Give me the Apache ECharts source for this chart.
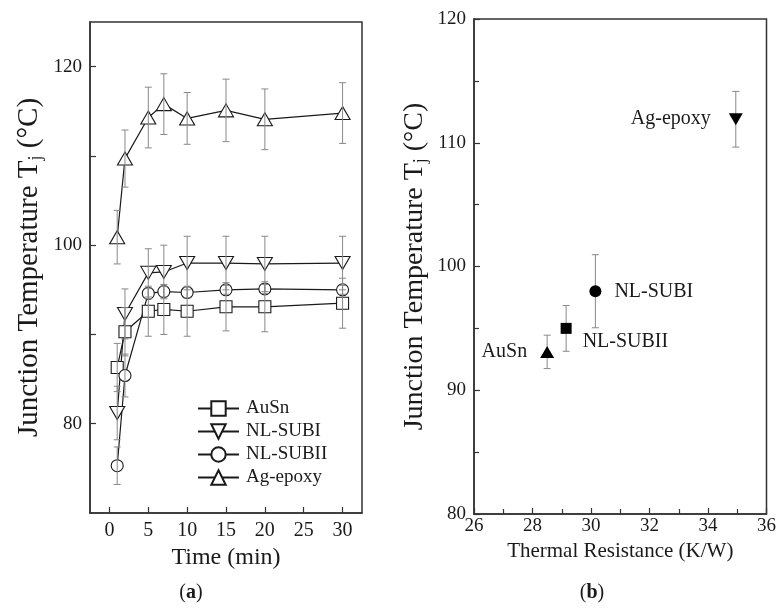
<!DOCTYPE html>
<html>
<head>
<meta charset="utf-8">
<script src="https://cdn.jsdelivr.net/npm/echarts@6/dist/echarts.min.js"></script>
<style>
  html, body { margin: 0; padding: 0; background: #fff; }
  #chart { width: 779px; height: 608px; }
</style>
</head>
<body>
<div id="chart"></div>
<script>
// (a) junction temperature vs time
const times = [1, 2, 5, 7, 10, 15, 20, 30];
const auSn = [86.3, 90.3, 92.6, 92.8, 92.6, 93.1, 93.1, 93.5];
const auSnErr = [2.7, 2.7, 2.8, 2.8, 2.8, 2.7, 2.8, 2.8];
const nlSub1 = [81.2, 92.3, 96.9, 97.0, 98.0, 98.0, 97.9, 98.0];
const nlSub1Err = [3.0, 2.8, 2.7, 3.0, 3.0, 3.0, 3.1, 3.0];
const nlSub2 = [75.3, 85.4, 94.6, 94.8, 94.7, 95.0, 95.1, 95.0];
const nlSub2Err = [2.1, 2.4, 0.6, 0.6, 0.6, 0.5, 0.5, 0.5];
const agEpoxy = [100.9, 109.7, 114.3, 115.8, 114.2, 115.1, 114.1, 114.8];
const agEpoxyErr = [3.0, 3.2, 3.4, 3.4, 2.9, 3.5, 3.4, 3.4];

// (b) junction temperature vs thermal resistance
const rthNames = ['AuSn', 'NL-SUBII', 'NL-SUBI', 'Ag-epoxy'];
const rth = [28.5, 29.15, 30.15, 34.95];
const tj = [93.1, 95.0, 98.0, 111.9];
const tjErr = [1.35, 1.85, 2.95, 2.25];

const timeTicks = [0, 5, 10, 15, 20, 25, 30];
const tempTicksA = [80, 90, 100, 110, 120];
const tempLabelsA = [80, 100, 120];

const FONT = "'Liberation Serif', 'Times New Roman', serif";
const INK = '#1a1a1a';

function errData(xs, ys, es) {
  return xs.map((x, i) => [x, ys[i] - es[i], ys[i] + es[i]]);
}

function errRender(params, api) {
  const x = api.value(0);
  const lo = api.coord([x, api.value(1)]);
  const hi = api.coord([x, api.value(2)]);
  const w = 3.5;
  const st = { stroke: '#888', lineWidth: 1 };
  return {
    type: 'group',
    children: [
      { type: 'line', shape: { x1: lo[0], y1: lo[1], x2: hi[0], y2: hi[1] }, style: st },
      { type: 'line', shape: { x1: hi[0] - w, y1: hi[1], x2: hi[0] + w, y2: hi[1] }, style: st },
      { type: 'line', shape: { x1: lo[0] - w, y1: lo[1], x2: lo[0] + w, y2: lo[1] }, style: st }
    ]
  };
}

function lineSeries(name, vals, symbol, rotate, size) {
  return {
    name: name,
    type: 'line',
    xAxisIndex: 0, yAxisIndex: 0,
    data: times.map((t, i) => [t, vals[i]]),
    symbol: symbol,
    symbolRotate: rotate,
    symbolSize: size,
    showAllSymbol: true,
    lineStyle: { color: INK, width: 1.2 },
    itemStyle: { color: '#fff', borderColor: INK, borderWidth: 1.1 },
    z: 2
  };
}

function errSeries(name, vals, errs) {
  return {
    name: name + '-err',
    type: 'custom',
    xAxisIndex: 0, yAxisIndex: 0,
    data: errData(times, vals, errs),
    encode: { x: 0, y: [1, 2] },
    renderItem: errRender,
    silent: true,
    z: 3
  };
}

const axisLine = { show: true, onZero: false, lineStyle: { color: '#333', width: 1.5 } };
const tickStyle = { show: true, inside: true, length: 6, lineStyle: { color: '#333', width: 1.2 } };
const labelStyle = { color: INK, fontSize: 19, fontFamily: FONT };
const subRich = { sub: { fontSize: 18, fontFamily: FONT, color: INK, padding: [13, 0, 0, 0], lineHeight: 18 } };

const rightSymbols = [
  { symbol: 'triangle', rotate: 0, size: [14, 12], pos: 'left', dist: 13, offset: [0, 0] },
  { symbol: 'rect', rotate: 0, size: 11, pos: 'right', dist: 11, offset: [0, 13] },
  { symbol: 'circle', rotate: 0, size: 12, pos: 'right', dist: 13, offset: [0, 0] },
  { symbol: 'triangle', rotate: 180, size: [14, 12], pos: 'left', dist: 18, offset: [0, 0] }
];

const option = {
  animation: false,
  backgroundColor: '#fff',
  textStyle: { fontFamily: FONT },
  grid: [
    { left: 90, top: 22, width: 272, height: 491, show: true, borderColor: '#333', borderWidth: 1.5 },
    { left: 474, top: 19, width: 295, height: 495, show: true, borderColor: '#333', borderWidth: 1.5 }
  ],
  legend: {
    orient: 'vertical',
    left: 192, top: 394,
    itemWidth: 41, itemHeight: 18, itemGap: 4,
    textStyle: { color: INK, fontSize: 19, fontFamily: FONT, padding: [0, 0, 0, 2] },
    data: ['AuSn', 'NL-SUBI', 'NL-SUBII', 'Ag-epoxy']
  },
  xAxis: [
    {
      type: 'value', gridIndex: 0, min: -2.5, max: 32.5,
      axisLine: axisLine,
      axisTick: Object.assign({}, tickStyle, { customValues: timeTicks }),
      axisLabel: Object.assign({}, labelStyle, { fontSize: 20, margin: 8, customValues: timeTicks }),
      splitLine: { show: false },
      name: 'Time (min)', nameLocation: 'middle', nameGap: 30,
      nameTextStyle: { color: INK, fontSize: 24, fontFamily: FONT }
    },
    {
      type: 'value', gridIndex: 1, min: 26, max: 36, interval: 2,
      axisLine: axisLine,
      axisTick: tickStyle,
      minorTick: { show: true, splitNumber: 2, length: 5, lineStyle: { color: '#333', width: 1.2 } },
      axisLabel: Object.assign({}, labelStyle, { margin: 3 }),
      splitLine: { show: false },
      minorSplitLine: { show: false },
      name: 'Thermal Resistance (K/W)', nameLocation: 'middle', nameGap: 27,
      nameTextStyle: { color: INK, fontSize: 21, fontFamily: FONT }
    }
  ],
  yAxis: [
    {
      type: 'value', gridIndex: 0, min: 70, max: 125,
      axisLine: axisLine,
      axisTick: Object.assign({}, tickStyle, { customValues: tempTicksA }),
      axisLabel: Object.assign({}, labelStyle, { margin: 8, customValues: tempLabelsA }),
      splitLine: { show: false },
      name: 'Junction Temperature T{sub|j} (°C)', nameLocation: 'middle', nameGap: 46,
      nameTextStyle: { color: INK, fontSize: 29, fontFamily: FONT, rich: subRich }
    },
    {
      type: 'value', gridIndex: 1, min: 80, max: 120, interval: 10,
      axisLine: axisLine,
      axisTick: tickStyle,
      minorTick: { show: true, splitNumber: 2, length: 5, lineStyle: { color: '#333', width: 1.2 } },
      axisLabel: Object.assign({}, labelStyle, { margin: 8 }),
      splitLine: { show: false },
      minorSplitLine: { show: false },
      name: 'Junction Temperature T{sub|j} (°C)', nameLocation: 'middle', nameGap: 45,
      nameTextStyle: { color: INK, fontSize: 28, fontFamily: FONT, rich: subRich }
    }
  ],
  graphic: [
    { type: 'text', style: { x: 191, y: 593, text: '({b|a})', align: 'center', verticalAlign: 'middle',
      font: '20px ' + FONT, fill: INK, rich: { b: { fontWeight: 'bold', fontSize: 20, fontFamily: FONT } } } },
    { type: 'text', style: { x: 592, y: 593, text: '({b|b})', align: 'center', verticalAlign: 'middle',
      font: '20px ' + FONT, fill: INK, rich: { b: { fontWeight: 'bold', fontSize: 20, fontFamily: FONT } } } }
  ],
  series: [
    lineSeries('AuSn', auSn, 'rect', 0, 12),
    lineSeries('NL-SUBI', nlSub1, 'triangle', 180, [15, 13]),
    lineSeries('NL-SUBII', nlSub2, 'circle', 0, 12),
    lineSeries('Ag-epoxy', agEpoxy, 'triangle', 0, [15, 13]),
    errSeries('AuSn', auSn, auSnErr),
    errSeries('NL-SUBI', nlSub1, nlSub1Err),
    errSeries('NL-SUBII', nlSub2, nlSub2Err),
    errSeries('Ag-epoxy', agEpoxy, agEpoxyErr),
    {
      name: 'Rth-err',
      type: 'custom',
      xAxisIndex: 1, yAxisIndex: 1,
      data: errData(rth, tj, tjErr),
      encode: { x: 0, y: [1, 2] },
      renderItem: errRender,
      silent: true,
      z: 1
    },
    {
      name: 'Rth',
      type: 'scatter',
      xAxisIndex: 1, yAxisIndex: 1,
      z: 3,
      data: rth.map((x, i) => ({
        value: [x, tj[i]],
        symbol: rightSymbols[i].symbol,
        symbolRotate: rightSymbols[i].rotate,
        symbolSize: rightSymbols[i].size,
        label: {
          show: true,
          formatter: rthNames[i],
          position: rightSymbols[i].pos,
          distance: rightSymbols[i].dist,
          offset: rightSymbols[i].offset,
          color: INK, fontSize: 20, fontFamily: FONT,
          textBorderWidth: 0
        }
      })),
      itemStyle: { color: '#000', opacity: 1 }
    }
  ]
};

const myChart = echarts.init(document.getElementById('chart'), null, { renderer: 'canvas' });
myChart.setOption(option);
</script>
</body>
</html>
